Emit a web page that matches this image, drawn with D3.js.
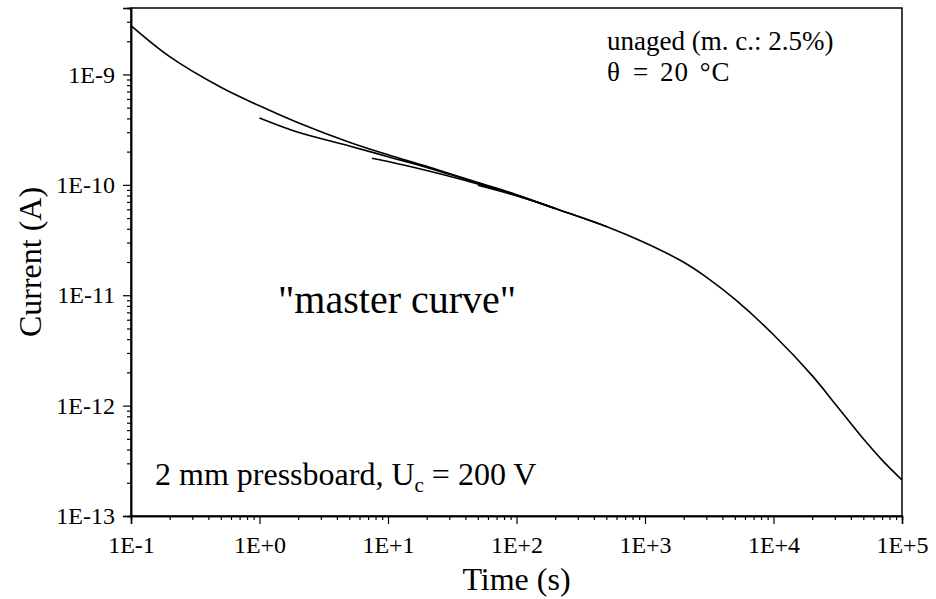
<!DOCTYPE html>
<html>
<head>
<meta charset="utf-8">
<script src="https://cdn.jsdelivr.net/npm/d3@7"></script>
<style>
  body { margin: 0; background: #fff; }
  svg { display: block; font-family: "Liberation Serif", "Times New Roman", serif; }
  .tick text { font-family: "Liberation Serif", serif !important; font-size: 24px !important; }
</style>
</head>
<body>
<div id="chart"></div>
<script>
// master curve, time in s, current in A
var timeMaster = [0.1, 0.2, 0.5, 1, 2, 5, 10, 20, 50, 100, 200, 500, 1000, 2000, 3000, 5000, 1e4, 2e4, 3e4, 5e4, 7e4, 1e5];
var currentMaster = [2.77e-9, 1.45e-9, 7.66e-10, 5.2e-10, 3.65e-10, 2.43e-10, 1.87e-10, 1.47e-10, 1.05e-10, 8.15e-11, 6.12e-11, 4.2e-11, 2.99e-11, 1.99e-11, 1.46e-11, 9.2e-12, 4.39e-12, 1.87e-12, 1.045e-12, 5.0e-13, 3.21e-13, 2.12e-13];

// shorter measured segments that merge into the master curve
var timeA = [1, 2, 5, 10, 20, 50, 100, 200];
var currentA = [4.03e-10, 2.99e-10, 2.25e-10, 1.80e-10, 1.44e-10, 1.04e-10, 8.1e-11, 6.1e-11];
var timeB = [7.5, 10, 20, 50, 100, 200];
var currentB = [1.74e-10, 1.63e-10, 1.35e-10, 1.02e-10, 8.0e-11, 6.1e-11];
var timeC = [50, 100, 200, 500];
var currentC = [9.9e-11, 7.95e-11, 6.1e-11, 4.2e-11];

// ticks
var xTicks = [1e-1, 1e0, 1e1, 1e2, 1e3, 1e4, 1e5];
var xTickLabels = ["1E-1", "1E+0", "1E+1", "1E+2", "1E+3", "1E+4", "1E+5"];
var yTicks = [1e-13, 1e-12, 1e-11, 1e-10, 1e-9];
var yTickLabels = ["1E-13", "1E-12", "1E-11", "1E-10", "1E-9"];

var svgWidth = 936, svgHeight = 599;
var margin = {top: 8, right: 34, bottom: 83, left: 131};
var width = svgWidth - margin.left - margin.right;
var height = svgHeight - margin.top - margin.bottom;

var svg = d3.select("#chart").append("svg")
    .attr("width", svgWidth)
    .attr("height", svgHeight);

var g = svg.append("g")
    .attr("transform", `translate(${margin.left},${margin.top})`);

var x = d3.scaleLog().domain([1e-1, 1e5]).range([0, width]);
var y = d3.scaleLog().domain([1e-13, 4e-9]).range([height, 0]);

// minor ticks (2..9 of each decade)
var xMinor = [];
for (var e = -1; e < 5; e++) for (var k = 2; k <= 9; k++) xMinor.push(k * Math.pow(10, e));
var yMinor = [];
for (var e2 = -13; e2 < -8; e2++) for (var k2 = 2; k2 <= 9; k2++) {
    var v = k2 * Math.pow(10, e2);
    if (v <= 4.001e-9) yMinor.push(v);
}

// frame
g.append("rect")
    .attr("width", width).attr("height", height)
    .attr("fill", "none").attr("stroke", "#000").attr("stroke-width", 1.5);

var xAxis = g.append("g")
    .attr("transform", `translate(0,${height})`)
    .call(d3.axisBottom(x).tickValues(xTicks).tickSize(8).tickPadding(12)
        .tickFormat((d, i) => xTickLabels[i]));
var xAxisMinor = g.append("g")
    .attr("transform", `translate(0,${height})`)
    .call(d3.axisBottom(x).tickValues(xMinor).tickSize(4).tickFormat(""));

var yAxis = g.append("g")
    .call(d3.axisLeft(y).tickValues(yTicks).tickSize(8).tickPadding(8)
        .tickFormat((d, i) => yTickLabels[i]));
var yAxisMinor = g.append("g")
    .call(d3.axisLeft(y).tickValues(yMinor).tickSize(4).tickFormat(""));

[xAxis, xAxisMinor, yAxis, yAxisMinor].forEach(function(a) {
    a.attr("font-family", null).attr("font-size", null);
    a.select(".domain").attr("stroke-width", 1.5);
    a.selectAll(".tick line").attr("stroke-width", 1.2);
    a.selectAll("text").attr("fill", "#000");
});

// curves
var line = d3.line()
    .x(d => x(d[0]))
    .y(d => y(d[1]))
    .curve(d3.curveCatmullRom.alpha(0.5));

var series = [
    d3.zip(timeMaster, currentMaster),
    d3.zip(timeA, currentA),
    d3.zip(timeB, currentB),
    d3.zip(timeC, currentC)
];

g.selectAll(".curve")
    .data(series)
    .enter()
    .append("path")
    .attr("class", "curve")
    .attr("d", line)
    .attr("fill", "none")
    .attr("stroke", "#000")
    .attr("stroke-width", 1.6);

// annotations
svg.append("text")
    .attr("x", 607).attr("y", 50)
    .style("font-size", "27px")
    .text("unaged (m. c.: 2.5%)");
var temp = svg.append("text")
    .attr("y", 81)
    .style("font-size", "27px");
temp.append("tspan").attr("x", 607).text("\u03b8");
temp.append("tspan").attr("x", 633)
    .style("letter-spacing", "1px")
    .style("word-spacing", "3px")
    .text("= 20 \u00b0C");

svg.append("text")
    .attr("x", 278).attr("y", 313)
    .style("font-size", "40px")
    .text("\"master curve\"");

var note = svg.append("text")
    .attr("x", 155).attr("y", 485)
    .style("font-size", "32px");
note.append("tspan").text("2 mm pressboard, U");
note.append("tspan").style("font-size", "21px").attr("dy", 7).text("c");
note.append("tspan").attr("dy", -7).text(" = 200 V");

// axis titles
svg.append("text")
    .attr("x", margin.left + width / 2).attr("y", 590)
    .attr("text-anchor", "middle")
    .style("font-size", "32px")
    .text("Time (s)");

svg.append("text")
    .attr("transform", `translate(41,${margin.top + height / 2}) rotate(-90)`)
    .attr("text-anchor", "middle")
    .style("font-size", "32px")
    .text("Current (A)");
</script>
</body>
</html>
